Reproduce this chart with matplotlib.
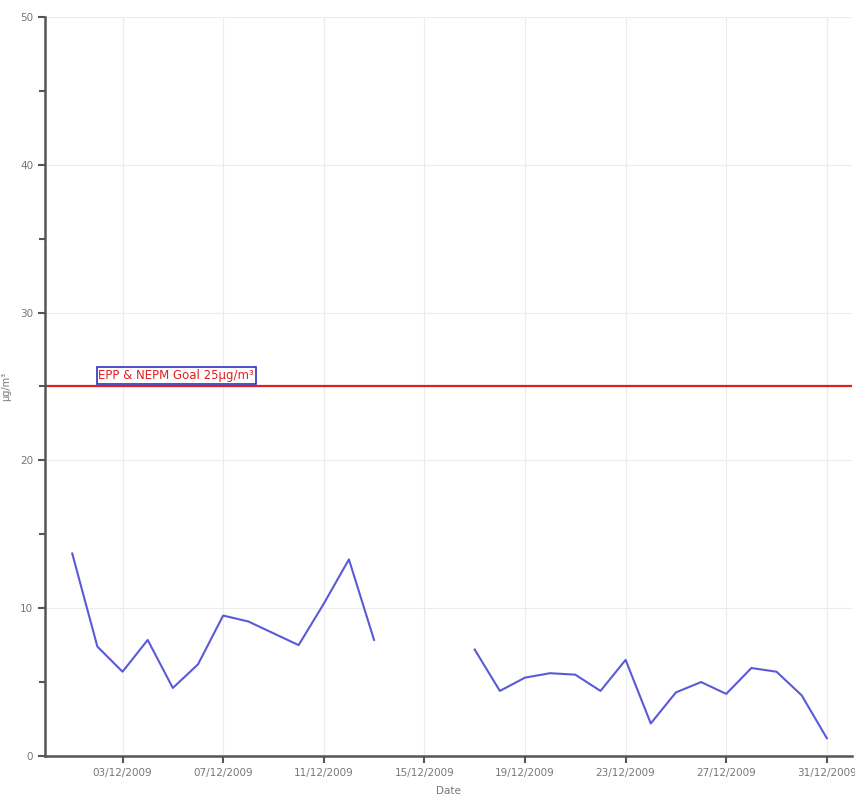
import numpy as np
import pandas as pd
import matplotlib
matplotlib.use("Agg")
import matplotlib.pyplot as plt
import matplotlib.dates as mdates

dates = pd.date_range("2009-12-01", "2009-12-31", freq="D")
values = [13.7, 7.4, 5.7, 7.85, 4.6, 6.2, 9.5, 9.1, 8.3, 7.5, 10.3, 13.3, 7.85,
          np.nan, np.nan, np.nan,
          7.2, 4.4, 5.3, 5.6, 5.5, 4.4, 6.5, 2.2, 4.3, 5.0, 4.2, 5.95, 5.7, 4.1, 1.2]
goal_value = 25
goal_label = "EPP & NEPM Goal 25µg/m³"
tick_dates = pd.to_datetime(["2009-12-03", "2009-12-07", "2009-12-11", "2009-12-15",
                             "2009-12-19", "2009-12-23", "2009-12-27", "2009-12-31"])
y_major = [0, 10, 20, 30, 40, 50]
y_minor = [5, 15, 25, 35, 45]

fig = plt.figure(figsize=(8.55, 8.08), dpi=100)
ax = fig.add_axes([0.0526, 0.0644, 0.9439, 0.9146])

ax.plot(dates, values, color="#5a5ad8", lw=1.5, zorder=3)
ax.axhline(goal_value, color="#e02020", lw=1.6, zorder=2)

ax.set_ylim(0, 50)
ax.set_xlim(pd.Timestamp("2009-11-29 22:00"), pd.Timestamp("2010-01-01 00:00"))
ax.set_yticks(y_major)
ax.set_yticks(y_minor, minor=True)
ax.set_xticks(tick_dates)
ax.xaxis.set_major_formatter(mdates.DateFormatter("%d/%m/%Y"))

ax.grid(True, which="major", color="#ececec", lw=0.8)
for s in ["top", "right"]:
    ax.spines[s].set_visible(False)
for s in ["left", "bottom"]:
    ax.spines[s].set_color("#555555")
    ax.spines[s].set_linewidth(1.8)

ax.tick_params(axis="both", which="major", length=5, width=1.5, color="#555555",
               labelsize=7.5, labelcolor="#777777", direction="out")
ax.tick_params(axis="y", which="minor", length=4, width=1.5, color="#555555")

ax.set_xlabel("Date", fontsize=7.5, color="#777777", labelpad=6)
ax.set_ylabel("µg/m³", fontsize=7, color="#777777")
ax.yaxis.set_label_coords(-0.042, 0.5)

ax.text(pd.Timestamp("2009-12-02 01:00"), goal_value + 0.3, goal_label,
        color="#e02020", fontsize=8.5, va="bottom", ha="left",
        bbox=dict(boxstyle="square,pad=0.15", fc="white", ec="#3030c0", lw=1.2))

fig.savefig("out.png", dpi=100)
